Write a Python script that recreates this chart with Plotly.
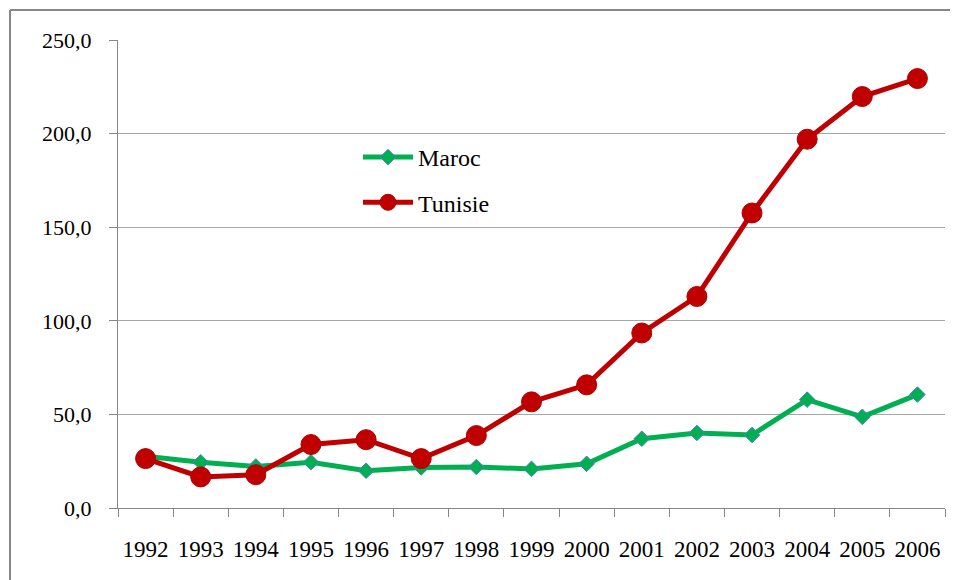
import plotly.graph_objects as go

years = ["1992", "1993", "1994", "1995", "1996", "1997", "1998", "1999",
         "2000", "2001", "2002", "2003", "2004", "2005", "2006"]
maroc = [27.6, 24.4, 22.2, 24.4, 19.9, 21.7, 21.9, 20.9,
         23.6, 37.0, 40.1, 39.0, 57.9, 48.7, 60.6]
tunisie = [26.4, 16.6, 17.8, 33.9, 36.5, 26.4, 38.7, 56.7,
           65.8, 93.5, 113.0, 157.6, 197.0, 219.8, 229.4]

FONT = "Liberation Serif, Times New Roman, serif"
GRID = "#a6a6a6"

fig = go.Figure()

fig.add_trace(go.Scatter(
    x=years, y=maroc, name="Maroc", mode="lines+markers",
    line=dict(color="#00b050", width=5),
    marker=dict(symbol="diamond", size=12, color="#00b050",
                line=dict(color="#4f81bd", width=1)),
    legendgroup="m",
))
fig.add_trace(go.Scatter(
    x=years, y=tunisie, name="Tunisie", mode="lines+markers",
    line=dict(color="#c00000", width=5),
    marker=dict(symbol="circle", size=20, color="#c00000",
                line=dict(color="#b00000", width=1)),
    legendgroup="t",
))

# la page ajoute 8px de marge au body : on compense
OFF = 8
W, H = 958 - OFF, 580 - OFF
L, R, T, B = 118 - OFF, 13, 40 - OFF, 72
pw, ph = W - L - R, H - T - B


def px(x):
    return (x - OFF - L) / pw


def py(y):
    return (H - B - (y - OFF)) / ph


# cadre (seulement haut et gauche visibles dans la capture)
for x0, y0, x1, y1 in [(10, 10, 970, 10), (10, 10, 10, 590)]:
    fig.add_shape(type="line", xref="paper", yref="paper",
                  x0=px(x0), y0=py(y0), x1=px(x1), y1=py(y1),
                  line=dict(color="#868686", width=2))

fig.update_xaxes(
    type="category", range=[-0.5, 14.5], tickson="boundaries",
    ticks="outside", ticklen=8, tickcolor="#868686",
    showline=True, linecolor="#868686", linewidth=1,
    showgrid=False, ticklabelstandoff=20, tickangle=0, automargin=False,
    tickfont=dict(family=FONT, size=23, color="#000000"),
)
fig.update_yaxes(
    range=[0, 250], dtick=50, tickformat=".1f",
    ticks="outside", ticklen=8, tickcolor="#868686",
    showline=True, linecolor="#868686", linewidth=1,
    showgrid=True, gridcolor=GRID, gridwidth=1, zeroline=False,
    ticklabelstandoff=13, automargin=False,
    tickfont=dict(family=FONT, size=22, color="#000000"),
)
fig.update_layout(
    width=W, height=H,
    margin=dict(l=L, r=R, t=T, b=B),
    paper_bgcolor="white", plot_bgcolor="white",
    separators=", ",
    font=dict(family=FONT, color="#000000"),
    legend=dict(
        x=px(358), y=py(135), xanchor="left", yanchor="top",
        bgcolor="rgba(0,0,0,0)", tracegroupgap=11, itemwidth=50,
        font=dict(family=FONT, size=24, color="#000000"),
    ),
)

fig.write_html("out.html")
